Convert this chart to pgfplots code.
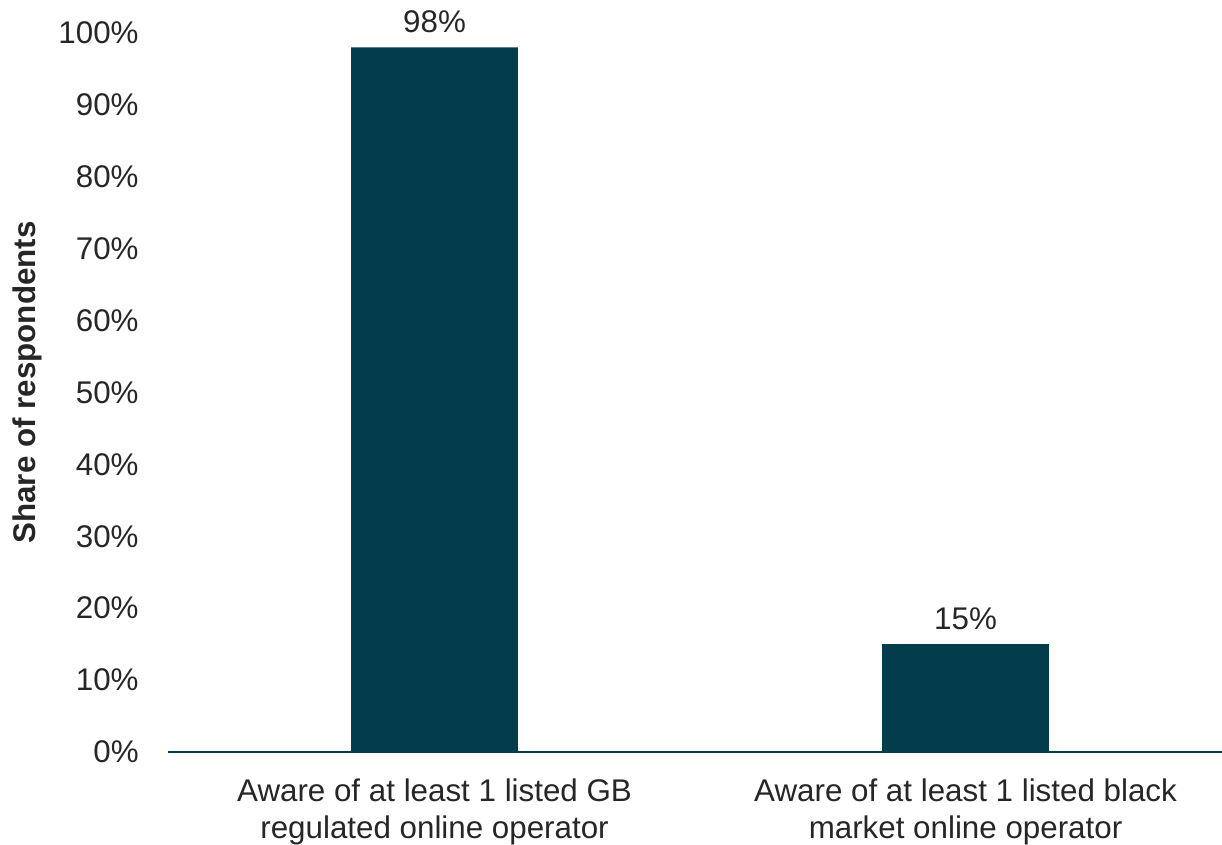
\documentclass[border=0pt]{standalone}
\usepackage{pgfplots}
\pgfplotsset{compat=1.18}
\usepackage{fontspec}
\setmainfont{Liberation Sans}
\definecolor{barcol}{HTML}{033D4C}
\definecolor{txt}{HTML}{262626}
\newcommand{\lblfont}{\fontsize{23.5}{28}\selectfont}
\begin{document}
\begin{tikzpicture}[x=0.75pt,y=0.75pt]
\lblfont
\path[use as bounding box] (-168,-92) rectangle (1054,752);
\begin{axis}[
  at={(0,0)}, anchor=south west,
  scale only axis,
  width=790.5pt, height=539.25pt,
  xmin=-0.502, xmax=1.483,
  ymin=0, ymax=100,
  /pgf/number format/assume math mode=true,
  xtick={0,1},
  xticklabels={Aware of at least 1 listed GB\\regulated online operator,
               Aware of at least 1 listed black\\market online operator},
  xticklabel style={align=center, text=txt, font=\lblfont},
  ytick={0,10,...,100},
  yticklabels={0\%,10\%,20\%,30\%,40\%,50\%,60\%,70\%,80\%,90\%,100\%},
  yticklabel style={text=txt, font=\lblfont},
  major tick length=0pt,
  y tick label style={xshift=-14pt},
  x tick label style={yshift=-12pt},
  axis x line*=bottom, axis y line*=left,
  y axis line style={draw=none},
  x axis line style={draw=barcol, line width=1.5pt, -},
  tick style={draw=none},
  ylabel={\textbf{Share of respondents}},
  ylabel style={text=txt, font=\lblfont, at={(axis description cs:-0.133,0.514)}, anchor=center},
  clip=false,
]
\addplot[ybar, bar width=125pt, fill=barcol, draw=none,
  nodes near coords={\pgfmathprintnumber{\pgfplotspointmeta}\%},
  every node near coord/.append style={text=txt, font=\lblfont, anchor=south, yshift=3pt}]
  coordinates {(0,98) (1,15)};
\end{axis}
\end{tikzpicture}
\end{document}
